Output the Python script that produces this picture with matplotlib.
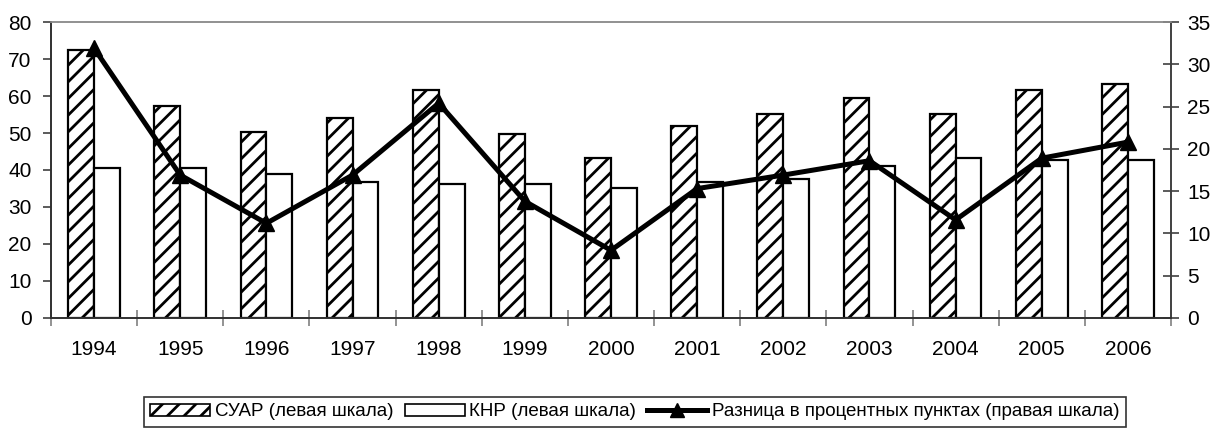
import numpy as np
import matplotlib.pyplot as plt
from matplotlib.patches import Patch
from matplotlib.lines import Line2D

plt.rcParams['font.family'] = ['Liberation Sans', 'DejaVu Sans']
plt.rcParams['hatch.linewidth'] = 2.0

years = ['1994', '1995', '1996', '1997', '1998', '1999', '2000',
         '2001', '2002', '2003', '2004', '2005', '2006']
suar = [72.5, 57.3, 50.3, 54.1, 61.7, 49.8, 43.3, 51.9, 55.2, 59.5, 55.2, 61.7, 63.3]
knr = [40.5, 40.5, 38.9, 36.7, 36.2, 36.2, 35.0, 36.7, 37.6, 41.1, 43.2, 42.6, 42.6]
diff = [31.9, 16.9, 11.2, 16.9, 25.4, 13.8, 8.0, 15.3, 16.9, 18.6, 11.6, 18.9, 20.8]

labels = ['СУАР (левая шкала)', 'КНР (левая шкала)',
          'Разница в процентных пунктах (правая шкала)']

fig = plt.figure(figsize=(12.14, 4.32), dpi=100)
ax = fig.add_axes([0.042, 0.264, 0.9226, 0.685])
ax2 = ax.twinx()

x = np.arange(len(years))
w = 0.3
ax.bar(x - w / 2, suar, w, facecolor='white', edgecolor='black',
       hatch='//', linewidth=1.6, zorder=2)
ax.bar(x + w / 2, knr, w, facecolor='white', edgecolor='black',
       linewidth=1.6, zorder=2)
ax2.plot(x, diff, color='black', linewidth=3.6, marker='^', markersize=11,
         zorder=3)

ax.set_xlim(-0.5, len(years) - 0.5)
ax.set_ylim(0, 80)
ax.set_yticks(range(0, 81, 10))
ax2.set_ylim(0, 35)
ax2.set_yticks(range(0, 36, 5))

# labels at category centres, tick marks at category boundaries
ax.set_xticks(x)
ax.set_xticklabels(years)
ax.tick_params(axis='x', length=0, pad=16, labelsize=15)
ax.set_xticks(np.arange(-0.5, len(years), 1), minor=True)
ax.tick_params(axis='x', which='minor', direction='inout', length=11,
               color='#808080', width=1.2)
ax.tick_params(axis='y', direction='out', length=6, width=1.2,
               color='#404040', labelsize=15, pad=8)
ax2.tick_params(axis='y', direction='inout', length=11, width=1.2,
                color='#404040', labelsize=15, pad=6)

for a in (ax, ax2):
    a.spines['top'].set_color('#909090')
    a.spines['top'].set_linewidth(1.2)
    a.spines['left'].set_color('#303030')
    a.spines['right'].set_color('#404040')
    a.spines['bottom'].set_color('#303030')
    for s in ('left', 'right', 'bottom'):
        a.spines[s].set_linewidth(1.2)
ax2.set_zorder(ax.get_zorder() + 1)
ax2.patch.set_visible(False)

handles = [
    Patch(facecolor='white', edgecolor='black', hatch='//', linewidth=1.2),
    Patch(facecolor='white', edgecolor='black', linewidth=1.2),
    Line2D([], [], color='black', linewidth=3.6, marker='^', markersize=10),
]
leg = fig.legend(handles, labels, loc='lower center', ncol=3,
                 bbox_to_anchor=(0.523, -0.01), fontsize=13.5, frameon=True,
                 fancybox=False, edgecolor='black', handlelength=3.2,
                 handleheight=0.6, handletextpad=0.25, columnspacing=0.6,
                 borderpad=0.35)
leg.get_frame().set_linewidth(1.2)

fig.savefig('out.png', dpi=100)
